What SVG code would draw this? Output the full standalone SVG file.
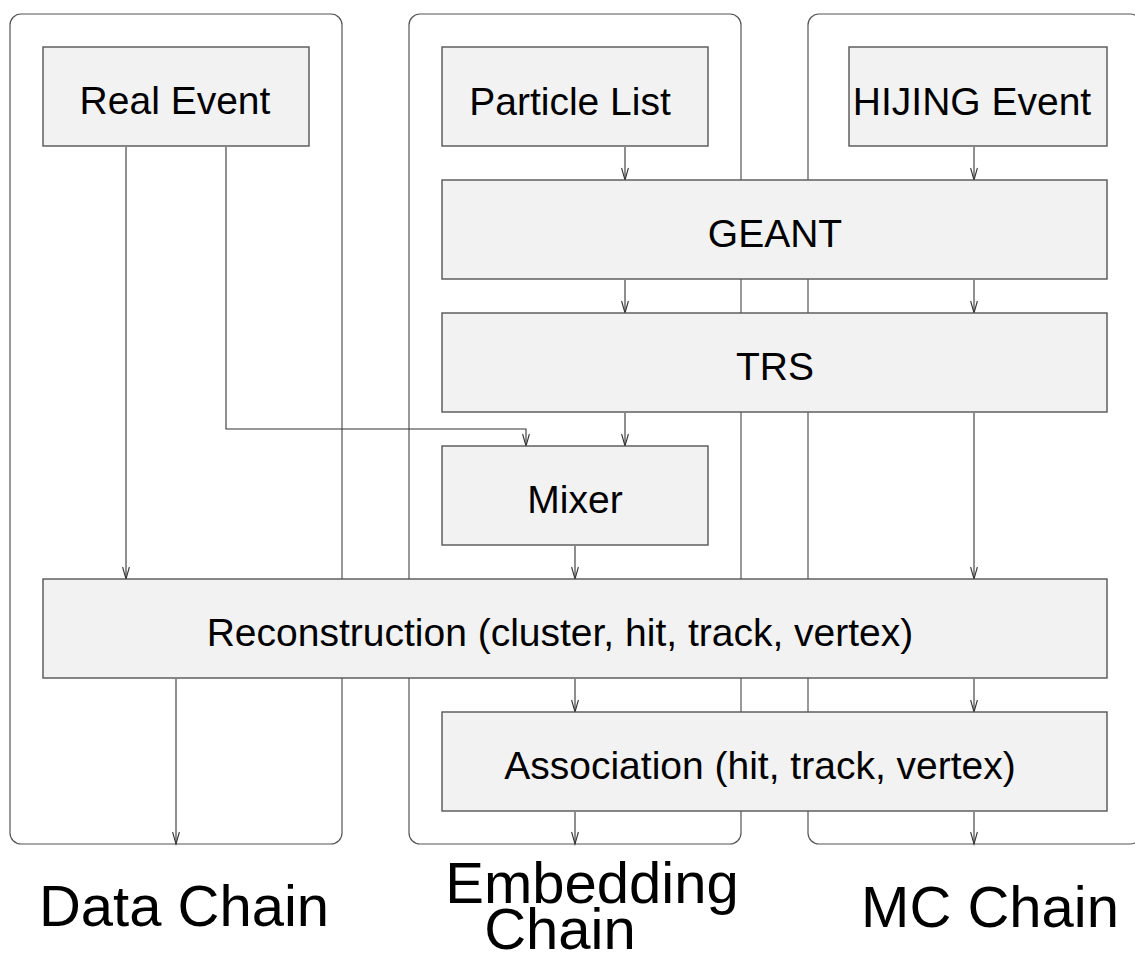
<svg xmlns="http://www.w3.org/2000/svg" width="1135" height="957" viewBox="0 0 1135 957">
  <style>
    .chain { fill: none; stroke: #555; stroke-width: 1.2; }
    .box { fill: #f2f2f2; stroke: #555; stroke-width: 1.4; }
    .lbl { font-family: "Liberation Sans", Arial, sans-serif; font-size: 39px; fill: #000; text-anchor: middle; }
    .title { font-family: "Liberation Sans", Arial, sans-serif; font-size: 58px; fill: #000; text-anchor: middle; }
    .flow { fill: none; stroke: #333; stroke-width: 1.1; marker-end: url(#vee); }
  </style>
  <defs>
    <marker id="vee" markerUnits="userSpaceOnUse" markerWidth="16" markerHeight="10" viewBox="-13 -5 14 10" refX="0" refY="0" orient="auto">
      <path d="M-12,-3.4 L0,0 L-12,3.4" fill="none" stroke="#333" stroke-width="1.1"/>
    </marker>
  </defs>

  <!-- chain frames -->
  <g id="data-chain-frame">
    <rect class="chain" x="10" y="14" width="332" height="830" rx="11" ry="11"/>
  </g>
  <g id="embedding-chain-frame">
    <rect class="chain" x="409" y="14" width="332" height="830" rx="11" ry="11"/>
  </g>
  <g id="mc-chain-frame">
    <rect class="chain" x="808" y="14" width="333" height="830" rx="11" ry="11"/>
  </g>

  <!-- connectors -->
  <g id="connectors">
    <path class="flow" d="M126,147 V579"/>
    <path class="flow" d="M226,147 V429 H526 V446"/>
    <path class="flow" d="M625,147 V180"/>
    <path class="flow" d="M974,147 V180"/>
    <path class="flow" d="M625,280 V313"/>
    <path class="flow" d="M974,280 V313"/>
    <path class="flow" d="M625,413 V446"/>
    <path class="flow" d="M974,413 V579"/>
    <path class="flow" d="M575,546 V579"/>
    <path class="flow" d="M176,679 V844"/>
    <path class="flow" d="M575,679 V712"/>
    <path class="flow" d="M974,679 V712"/>
    <path class="flow" d="M575,812 V844"/>
    <path class="flow" d="M974,812 V844"/>
  </g>

  <!-- process boxes -->
  <g id="real-event">
    <rect class="box" x="43" y="47" width="266" height="99"/>
    <text class="lbl" x="175" y="114">Real Event</text>
  </g>
  <g id="particle-list">
    <rect class="box" x="442" y="47" width="266" height="99"/>
    <text class="lbl" x="570" y="115">Particle List</text>
  </g>
  <g id="hijing-event">
    <rect class="box" x="849" y="47" width="258" height="99"/>
    <text class="lbl" x="972" y="115">HIJING Event</text>
  </g>
  <g id="geant">
    <rect class="box" x="442" y="180" width="665" height="99"/>
    <text class="lbl" x="775" y="247">GEANT</text>
  </g>
  <g id="trs">
    <rect class="box" x="442" y="313" width="665" height="99"/>
    <text class="lbl" x="775" y="380">TRS</text>
  </g>
  <g id="mixer">
    <rect class="box" x="442" y="446" width="266" height="99"/>
    <text class="lbl" x="575" y="513">Mixer</text>
  </g>
  <g id="reconstruction">
    <rect class="box" x="43" y="579" width="1064" height="99"/>
    <text class="lbl" x="560" y="646">Reconstruction (cluster, hit, track, vertex)</text>
  </g>
  <g id="association">
    <rect class="box" x="442" y="712" width="665" height="99"/>
    <text class="lbl" x="760" y="779">Association (hit, track, vertex)</text>
  </g>

  <!-- chain titles -->
  <g id="titles">
    <text class="title" x="184" y="926">Data Chain</text>
    <text class="title" x="592" y="903">Embedding</text>
    <text class="title" x="560" y="949">Chain</text>
    <text class="title" x="990" y="927">MC Chain</text>
  </g>
</svg>
